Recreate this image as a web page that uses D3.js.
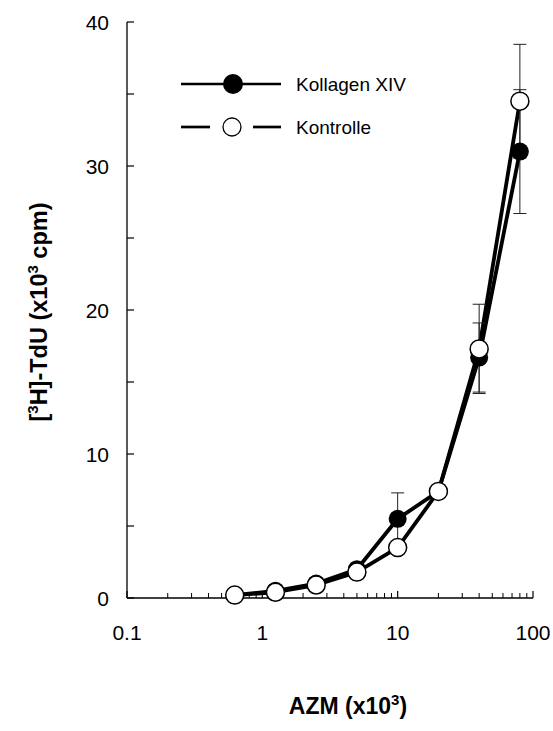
<!DOCTYPE html>
<html><head><meta charset="utf-8">
<script src="https://cdn.jsdelivr.net/npm/d3@7"></script>
<style>body{margin:0;background:#fff}svg{display:block}text{font-family:"Liberation Sans",Arial,sans-serif}</style>
</head><body>
<script>
const concentrations = [0.625, 1.25, 2.5, 5, 10, 20, 40, 80];
const kollagen = [0.2, 0.5, 1.0, 2.0, 5.5, 7.4, 16.7, 31.0];
const kollagenErr = [0, 0, 0, 0, 1.8, 0, 2.4, 4.3];
const kontrolle = [0.2, 0.4, 0.9, 1.8, 3.5, 7.4, 17.3, 34.5];
const kontrolleErr = [0, 0, 0, 0, 0, 0, 3.1, 3.95];
const xTicks = [0.1, 1, 10, 100];
const yTicks = [0, 10, 20, 30, 40];
const seriesNames = ["Kollagen XIV", "Kontrolle"];

const W = 553, H = 731;
const svg = d3.select("body").append("svg").attr("width", W).attr("height", H);
const x = d3.scaleLog().domain([0.1, 100]).range([127, 533]);
const y = d3.scaleLinear().domain([0, 40]).range([598, 22]);

// axes
const gx = svg.append("g");
gx.append("line").attr("x1", x(0.1)).attr("x2", x(100)).attr("y1", y(0)).attr("y2", y(0)).attr("stroke", "#000").attr("stroke-width", 1.3);
const minor = [];
[0.1, 1, 10].forEach(d => { for (let k = 2; k <= 9; k++) minor.push(d * k); });
gx.selectAll(".mn").data(minor).join("line").attr("x1", d => x(d)).attr("x2", d => x(d))
  .attr("y1", y(0)).attr("y2", y(0) - 5).attr("stroke", "#000").attr("stroke-width", 1);
gx.selectAll(".mj").data(xTicks).join("line").attr("x1", d => x(d)).attr("x2", d => x(d))
  .attr("y1", y(0)).attr("y2", y(0) - 7).attr("stroke", "#000").attr("stroke-width", 1.2);
gx.selectAll(".xl").data(xTicks).join("text").attr("x", d => x(d)).attr("y", 640)
  .attr("text-anchor", "middle").attr("font-size", 21).text(d => d);

const gy = svg.append("g");
gy.append("line").attr("x1", x(0.1)).attr("x2", x(0.1)).attr("y1", y(0)).attr("y2", y(40)).attr("stroke", "#000").attr("stroke-width", 1.3);
const yAll = d3.range(0, 41, 5);
gy.selectAll(".yt").data(yAll).join("line").attr("x1", x(0.1)).attr("x2", x(0.1) + 7)
  .attr("y1", d => y(d)).attr("y2", d => y(d)).attr("stroke", "#000").attr("stroke-width", 1.2);
gy.selectAll(".yl").data(yTicks).join("text").attr("x", 109).attr("y", d => y(d) + 7.5)
  .attr("text-anchor", "end").attr("font-size", 21).text(d => d);

// titles
const xt = svg.append("text").attr("x", 348).attr("y", 714).attr("text-anchor", "middle")
  .attr("font-size", 23).attr("font-weight", "bold");
xt.append("tspan").text("AZM (x10");
xt.append("tspan").attr("font-size", 15).attr("dy", -9).text("3");
xt.append("tspan").attr("dy", 9).text(")");

const yt = svg.append("text").attr("transform", "translate(47,312) rotate(-90)").attr("text-anchor", "middle")
  .attr("font-size", 23.5).attr("font-weight", "bold");
yt.append("tspan").text("[");
yt.append("tspan").attr("font-size", 15).attr("dy", -9).text("3");
yt.append("tspan").attr("dy", 9).text("H]-TdU (x10");
yt.append("tspan").attr("font-size", 15).attr("dy", -9).text("3");
yt.append("tspan").attr("dy", 9).text(" cpm)");

// data
const pts = (vals, errs) => concentrations.map((c, i) => ({ c, v: vals[i], e: errs[i] }));
const kol = pts(kollagen, kollagenErr), kon = pts(kontrolle, kontrolleErr);
const line = d3.line().x(d => x(d.c)).y(d => y(d.v));
[kol, kon].forEach(s => svg.append("path").attr("d", line(s)).attr("fill", "none")
  .attr("stroke", "#000").attr("stroke-width", 3.8).attr("stroke-linejoin", "round"));

function errBars(s) {
  const g = svg.append("g");
  const d = s.filter(p => p.e > 0);
  g.selectAll(".v").data(d).join("line").attr("x1", p => x(p.c)).attr("x2", p => x(p.c))
    .attr("y1", p => y(p.v + p.e)).attr("y2", p => y(p.v - p.e)).attr("stroke", "#222").attr("stroke-width", 1);
  [1, -1].forEach(sg => g.selectAll(".c" + sg).data(d).join("line")
    .attr("x1", p => x(p.c) - 6.5).attr("x2", p => x(p.c) + 6.5)
    .attr("y1", p => y(p.v + sg * p.e)).attr("y2", p => y(p.v + sg * p.e)).attr("stroke", "#222").attr("stroke-width", 1));
}
errBars(kol); errBars(kon);

svg.append("g").selectAll("circle").data(kol).join("circle").attr("cx", d => x(d.c)).attr("cy", d => y(d.v))
  .attr("r", 9).attr("fill", "#000");
svg.append("g").selectAll("circle").data(kon).join("circle").attr("cx", d => x(d.c)).attr("cy", d => y(d.v))
  .attr("r", 9).attr("fill", "#fff").attr("stroke", "#000").attr("stroke-width", 1.5);

// legend
const lg = svg.append("g");
lg.append("line").attr("x1", 181).attr("x2", 281).attr("y1", 84).attr("y2", 84).attr("stroke", "#000").attr("stroke-width", 2.7);
lg.append("circle").attr("cx", 233).attr("cy", 84).attr("r", 10).attr("fill", "#000");
lg.append("line").attr("x1", 181).attr("x2", 210).attr("y1", 127).attr("y2", 127).attr("stroke", "#000").attr("stroke-width", 2.7);
lg.append("line").attr("x1", 253).attr("x2", 281).attr("y1", 127).attr("y2", 127).attr("stroke", "#000").attr("stroke-width", 2.7);
lg.append("circle").attr("cx", 232).attr("cy", 127).attr("r", 9).attr("fill", "#fff").attr("stroke", "#000").attr("stroke-width", 1.3);
lg.selectAll("text").data(seriesNames).join("text").attr("x", 296).attr("y", (d, i) => 91 + i * 43)
  .attr("font-size", 19).text(d => d);
</script>
</body></html>
